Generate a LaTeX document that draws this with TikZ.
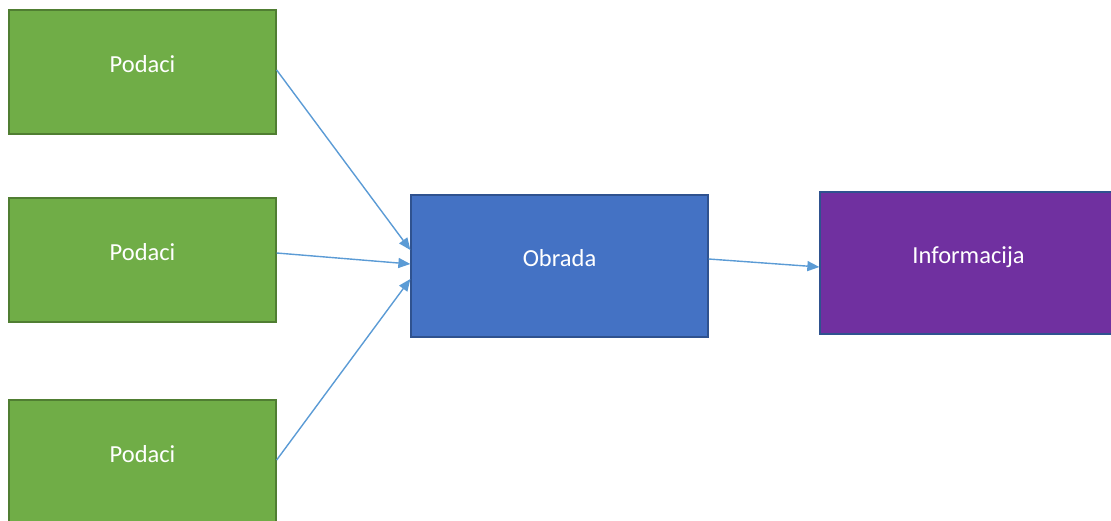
\documentclass[tikz,border=0pt]{standalone}
\usepackage{fontspec}
\setmainfont{Carlito}
\usetikzlibrary{arrows.meta,calc}

\definecolor{zelena}{HTML}{70AD47}
\definecolor{zelenarub}{HTML}{507E32}
\definecolor{plava}{HTML}{4472C4}
\definecolor{plavarub}{HTML}{2F528F}
\definecolor{ljubicasta}{HTML}{7030A0}
\definecolor{strelica}{HTML}{5B9BD5}

\begin{document}
\begin{tikzpicture}[x=1pt,y=-1pt]
\tikzstyle{blok}=[draw, line width=1.3pt, rectangle, text=white,
  font=\fontsize{24.5}{29}\selectfont, text height=16pt, text depth=15pt]
\tikzstyle{podaci}=[blok, fill=zelena, draw=zelenarub, minimum width=267pt, minimum height=124pt]
\tikzstyle{obrada}=[blok, fill=plava, draw=plavarub, minimum width=297pt, minimum height=142pt]
\tikzstyle{info}=[blok, fill=ljubicasta, draw=plavarub, minimum width=297pt, minimum height=142pt]
\tikzstyle{veza}=[draw=strelica, line width=1.4pt, -{Triangle[length=12pt,width=10pt]}]
\useasboundingbox (0,0) rectangle (1111,521);
% ulazi
\node[podaci] (p1) at (142.5,72) {Podaci};
\node[podaci] (p2) at (142.5,260) {Podaci};
\node[podaci] (p3) at (142.5,462) {Podaci};
% obrada i izlaz
\node[obrada] (obrada) at (559.5,266) {Obrada};
\node[info] (info) at (968.5,263) {Informacija};
% strelice
\draw[veza] ($(p1.east)+(0,-2)$) -- ($(obrada.west)+(0,-16)$);
\draw[veza] ($(p2.east)+(0,-7)$) -- ($(obrada.west)+(0,-2)$);
\draw[veza] ($(p3.east)+(0,-2)$) -- ($(obrada.west)+(0,13)$);
\draw[veza] ($(obrada.east)+(0,-7)$) -- ($(info.west)+(0,4)$);
\end{tikzpicture}
\end{document}
